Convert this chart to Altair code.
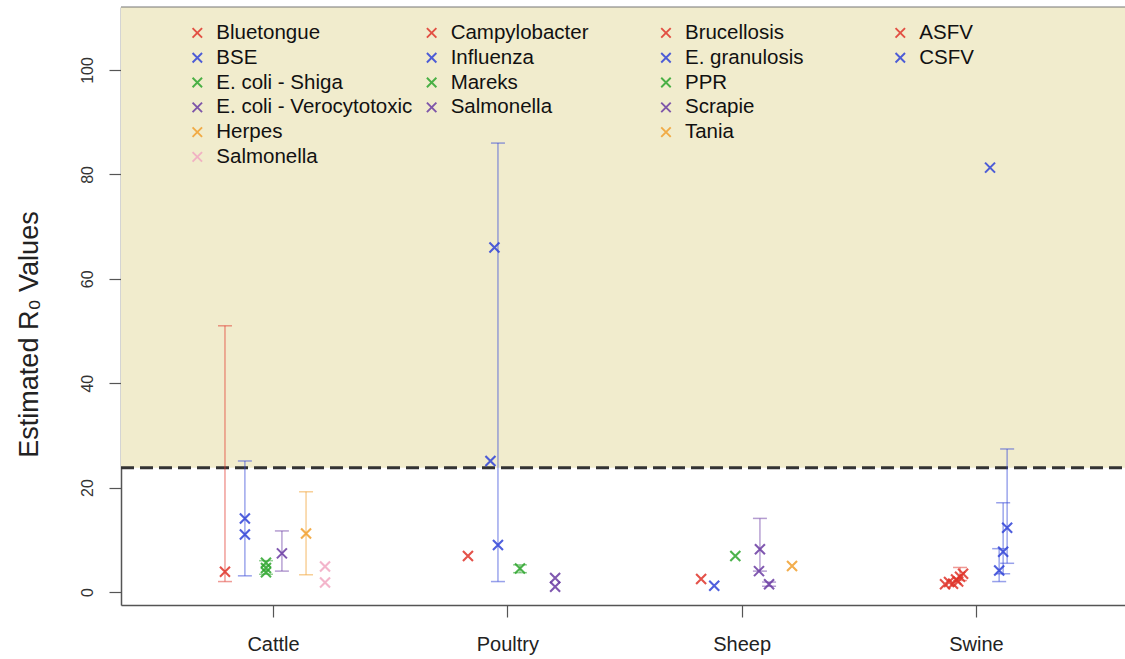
import altair as alt
import pandas as pd

# ---- data -------------------------------------------------------------
species = ["Cattle", "Poultry", "Sheep", "Swine"]
palette = ["#E0352B", "#3144D8", "#2EA62E", "#6B3CA3", "#F2A02E", "#F2A9C2"]

# diseases per species, legend order (colour = position within species)
cattle_dz = ["Bluetongue", "BSE", "E. coli - Shiga", "E. coli - Verocytotoxic", "Herpes", "Salmonella"]
poultry_dz = ["Campylobacter", "Influenza", "Mareks", "Salmonella"]
sheep_dz = ["Brucellosis", "E. granulosis", "PPR", "Scrapie", "Tania"]
swine_dz = ["ASFV", "CSFV"]
diseases = [cattle_dz, poultry_dz, sheep_dz, swine_dz]

# individual R0 estimates (x = species position plus jitter)
est_species = (["Cattle"] * 10 + ["Poultry"] * 7 + ["Sheep"] * 7 + ["Swine"] * 11)
est_disease = [
    "Bluetongue", "BSE", "BSE", "E. coli - Shiga", "E. coli - Shiga", "E. coli - Shiga",
    "E. coli - Verocytotoxic", "Herpes", "Salmonella", "Salmonella",
    "Campylobacter", "Influenza", "Influenza", "Influenza", "Mareks", "Salmonella", "Salmonella",
    "Brucellosis", "E. granulosis", "PPR", "Scrapie", "Scrapie", "Scrapie", "Tania",
    "ASFV", "ASFV", "ASFV", "ASFV", "ASFV", "ASFV", "ASFV",
    "CSFV", "CSFV", "CSFV", "CSFV",
]
est_x = [
    0.795, 0.880, 0.880, 0.970, 0.970, 0.970, 1.038, 1.141, 1.222, 1.222,
    1.832, 1.960, 1.945, 1.928, 2.054, 2.204, 2.204,
    2.827, 2.883, 2.973, 3.078, 3.074, 3.117, 3.215,
    3.868, 3.885, 3.902, 3.915, 3.932, 3.945, 3.924,
    4.060, 4.133, 4.116, 4.099,
]
est_r0 = [
    3.9, 14.1, 11.0, 5.6, 4.6, 3.8, 7.4, 11.2, 4.9, 1.8,
    6.9, 9.0, 66.0, 25.1, 4.5, 2.7, 1.0,
    2.5, 1.2, 6.9, 8.2, 4.0, 1.5, 5.0,
    1.5, 1.9, 1.6, 2.4, 2.9, 3.5, 2.0,
    81.3, 12.3, 7.7, 4.1,
]
est_lo = [
    2.0, None, 3.1, None, 3.4, None, 4.0, 3.3, None, None,
    None, 2.0, None, None, 3.7, None, None,
    None, None, None, 4.0, None, 1.1, None,
    None, None, None, None, 2.2, None, None,
    None, 5.5, 3.5, 2.0,
]
est_hi = [
    51.0, None, 25.1, None, 6.0, None, 11.7, 19.2, None, None,
    None, 86.0, None, None, 5.2, None, None,
    None, None, None, 14.1, None, 1.9, None,
    None, None, None, None, 4.7, None, None,
    None, 27.4, 17.1, 8.3,
]

threshold = 23.8
y_domain = [-2.49, 112.07]
x_domain = [0.3513, 4.636]

# ---- tables -----------------------------------------------------------
def colour_of(sp, dz):
    return palette[diseases[species.index(sp)].index(dz)]

est = pd.DataFrame({
    "species": est_species, "disease": est_disease, "x": est_x,
    "r0": est_r0, "lo": est_lo, "hi": est_hi,
})
est["colour"] = [colour_of(s, d) for s, d in zip(est.species, est.disease)]
ci = est.dropna(subset=["lo", "hi"])

leg_rows = []
for c, dz_list in enumerate(diseases):
    for r, dz in enumerate(dz_list):
        leg_rows.append({"lx": c + 1 - 0.323, "ly": 107.1 - 4.75 * r,
                         "label": dz, "colour": palette[r]})
leg = pd.DataFrame(leg_rows)

W, H = 1004, 598
FONT = "Liberation Sans"
xs = alt.Scale(domain=x_domain, nice=False, zero=False)
ys = alt.Scale(domain=y_domain, nice=False, zero=False)

label_expr = "[" + ",".join("'%s'" % s for s in species) + "][datum.value - 1]"
x_axis = alt.Axis(values=[1, 2, 3, 4], labelExpr=label_expr, title=None, grid=False,
                  tickSize=12, labelPadding=17, labelFontSize=20, labelColor="#222",
                  domainColor="#555", domainWidth=1.5, tickColor="#555", tickWidth=1.2,
                  labelFont=FONT)
y_axis = alt.Axis(values=[0, 20, 40, 60, 80, 100], title="Estimated R₀ Values", grid=False,
                  tickSize=12, labelAngle=270, labelAlign="center", labelBaseline="bottom",
                  labelPadding=14, labelFontSize=16, labelColor="#333",
                  domainColor="#555", domainWidth=1.5, tickColor="#555", tickWidth=1.2,
                  titleFontSize=27, titleFont=FONT, titleFontWeight="normal",
                  titleColor="#222", titlePadding=36, titleY=327, labelFont=FONT)

base_x = alt.X("x:Q", scale=xs, axis=x_axis)
base_y = alt.Y("r0:Q", scale=ys, axis=y_axis)

# shaded region above the threshold
shade = alt.Chart(pd.DataFrame({"a": [threshold], "b": [y_domain[1]]})).mark_rect(
    color="#F1ECCD").encode(
    x=alt.value(0), x2=alt.value(W),
    y=alt.Y("a:Q", scale=ys, axis=y_axis), y2="b:Q")

top_line = alt.Chart(pd.DataFrame({"t": [y_domain[1]]})).mark_rule(
    color="#777", strokeWidth=1.2).encode(
    x=alt.value(0), x2=alt.value(W), y=alt.Y("t:Q", scale=ys))

dash = alt.Chart(pd.DataFrame({"t": [threshold]})).mark_rule(
    color="#333", strokeWidth=3, strokeDash=[13, 6]).encode(
    x=alt.value(0), x2=alt.value(W), y=alt.Y("t:Q", scale=ys))

bars = alt.Chart(ci).mark_rule(strokeWidth=1.6, opacity=0.45).encode(
    x=alt.X("x:Q", scale=xs), y=alt.Y("lo:Q", scale=ys), y2="hi:Q",
    color=alt.Color("colour:N", scale=None))
cap_lo = alt.Chart(ci).mark_tick(orient="horizontal", size=14, thickness=1.5, opacity=0.5).encode(
    x=alt.X("x:Q", scale=xs), y=alt.Y("lo:Q", scale=ys),
    color=alt.Color("colour:N", scale=None))
cap_hi = alt.Chart(ci).mark_tick(orient="horizontal", size=14, thickness=1.5, opacity=0.5).encode(
    x=alt.X("x:Q", scale=xs), y=alt.Y("hi:Q", scale=ys),
    color=alt.Color("colour:N", scale=None))

cross = "M-1,-1L1,1M-1,1L1,-1"
points = alt.Chart(est).mark_point(shape=cross, size=100, strokeWidth=2.1, filled=False,
                                   opacity=0.85).encode(
    x=base_x, y=base_y, color=alt.Color("colour:N", scale=None))

leg_marks = alt.Chart(leg).mark_point(shape=cross, size=90, strokeWidth=1.9, filled=False,
                                      opacity=0.85).encode(
    x=alt.X("lx:Q", scale=xs), y=alt.Y("ly:Q", scale=ys),
    color=alt.Color("colour:N", scale=None))
leg_text = alt.Chart(leg).mark_text(align="left", baseline="middle", dx=19, fontSize=20.5,
                                    font=FONT, color="#111").encode(
    x=alt.X("lx:Q", scale=xs), y=alt.Y("ly:Q", scale=ys), text="label:N")

chart = alt.layer(shade, top_line, dash, bars, cap_lo, cap_hi, points, leg_marks, leg_text).properties(
    width=W, height=H,
    autosize=alt.AutoSizeParams(type="none"),
    padding={"left": 121, "top": 7, "right": 0, "bottom": 54},
).configure_view(stroke=None).configure(background="white")

chart.save("out.html", embed_options={"renderer": "svg", "actions": False})
